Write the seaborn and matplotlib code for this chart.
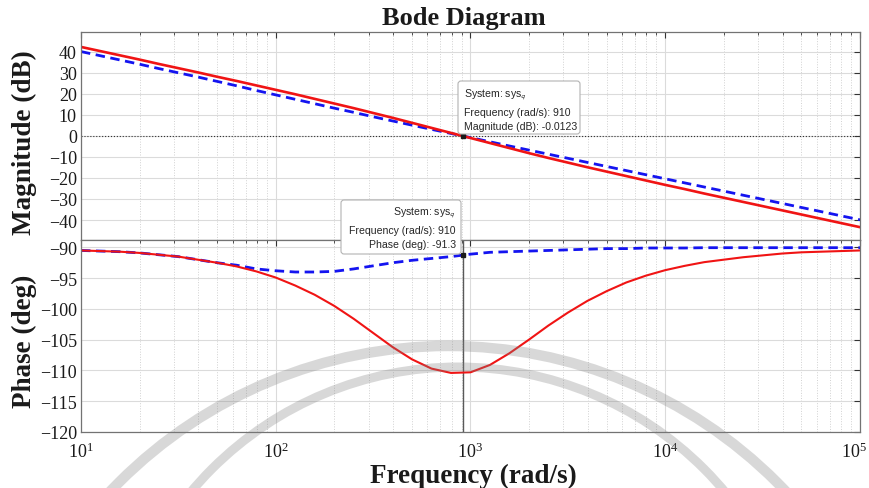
import numpy as np
import pandas as pd
import matplotlib
matplotlib.use("Agg")
import matplotlib.pyplot as plt
import seaborn as sns
from matplotlib.patches import FancyBboxPatch, Arc
from matplotlib.ticker import LogLocator, NullFormatter, FixedLocator
from matplotlib.transforms import ScaledTranslation

# ---------------- data (0.1-decade steps) ----------------
freq = [10, 12.59, 15.85, 19.95, 25.12, 31.62, 39.81, 50.12, 63.1, 79.43,
        100, 125.9, 158.5, 199.5, 251.2, 316.2, 398.1, 501.2, 631, 794.3,
        1000, 1259, 1585, 1995, 2512, 3162, 3981, 5012, 6310, 7943,
        10000, 12590, 15850, 19950, 25120, 31620, 39810, 50120, 63100, 79430,
        100000]
mag_red = [42.3, 40.3, 38.3, 36.3, 34.2, 32.2, 30.2, 28.1, 26.1, 24.0,
           21.9, 19.8, 17.6, 15.4, 13.2, 10.9, 8.6, 6.2, 3.8, 1.4,
           -1.0, -3.4, -5.8, -8.2, -10.5, -12.7, -14.9, -17.0, -19.1, -21.2,
           -23.3, -25.3, -27.4, -29.4, -31.4, -33.4, -35.4, -37.4, -39.4, -41.4,
           -43.4]
mag_blue = [40.1, 38.1, 36.1, 34.1, 32.0, 30.0, 28.0, 25.9, 23.8, 21.6,
            19.5, 17.4, 15.3, 13.2, 11.2, 9.1, 7.1, 5.1, 3.1, 1.15,
            -0.8, -2.8, -4.8, -6.75, -8.7, -10.65, -12.6, -14.55, -16.5, -18.45,
            -20.4, -22.35, -24.3, -26.25, -28.2, -30.15, -32.1, -34.05, -36.0, -37.95,
            -39.9]
phase_red = [-90.5, -90.6, -90.7, -90.9, -91.2, -91.5, -92.0, -92.5, -93.1, -93.9,
             -94.9, -96.2, -97.7, -99.5, -101.6, -103.9, -106.2, -108.2, -109.7, -110.4,
             -110.3, -109.1, -107.2, -105.0, -102.7, -100.6, -98.7, -97.1, -95.7, -94.6,
             -93.7, -93.0, -92.4, -92.0, -91.6, -91.3, -91.0, -90.8, -90.7, -90.6,
             -90.5]
phase_blue = [-90.5, -90.6, -90.7, -90.9, -91.2, -91.5, -92.0, -92.5, -92.9, -93.5,
              -93.8, -94.0, -94.0, -93.9, -93.5, -93.0, -92.5, -92.1, -91.8, -91.5,
              -91.1, -90.8, -90.7, -90.6, -90.5, -90.4, -90.3, -90.2, -90.2, -90.1,
              -90.1, -90.1, -90.05, -90.05, -90.05, -90.05, -90.05, -90.05, -90.05, -90.05,
              -90.05]
tip_freq = 910
tip_mag = -0.0123
tip_phase = -91.3
mag_ticks = [-40, -30, -20, -10, 0, 10, 20, 30, 40]
phase_ticks = [-120, -115, -110, -105, -100, -95, -90]
x_ticks = [1e1, 1e2, 1e3, 1e4, 1e5]
x_ticklabels = [r"$\mathdefault{10^{1}}$", r"$\mathdefault{10^{2}}$", r"$\mathdefault{10^{3}}$",
                r"$\mathdefault{10^{4}}$", r"$\mathdefault{10^{5}}$"]

df = pd.DataFrame({"freq": freq, "mag_red": mag_red, "mag_blue": mag_blue,
                   "phase_red": phase_red, "phase_blue": phase_blue})

# ---------------- style ----------------
sns.set_theme(style="white")
plt.rcParams["font.family"] = ["Liberation Serif", "DejaVu Serif"]
plt.rcParams["mathtext.fontset"] = "stix"
plt.rcParams["axes.unicode_minus"] = True

W, H = 870, 489
fig = plt.figure(figsize=(W / 100, H / 100), dpi=100)
fig.patch.set_facecolor("white")


def rect(l, t, r, b):
    return [l / W, 1 - b / H, (r - l) / W, (b - t) / H]


ax1 = fig.add_axes(rect(81, 33, 860, 241))
ax2 = fig.add_axes(rect(81, 241, 860, 433))

RED = "#f01414"
BLUE = "#1414f0"

for ax in (ax1, ax2):
    ax.set_xscale("log")
    ax.set_xlim(10, 1e5)
    ax.set_facecolor("white")

sns.lineplot(data=df, x="freq", y="mag_blue", ax=ax1, color=BLUE, lw=2.0,
             linestyle=(0, (3.4, 2.0)), estimator=None, sort=False)
sns.lineplot(data=df, x="freq", y="mag_red", ax=ax1, color=RED, lw=1.9,
             estimator=None, sort=False)
sns.lineplot(data=df, x="freq", y="phase_blue", ax=ax2, color=BLUE, lw=2.0,
             linestyle=(0, (3.4, 2.0)), estimator=None, sort=False)
sns.lineplot(data=df, x="freq", y="phase_red", ax=ax2, color=RED, lw=1.5,
             estimator=None, sort=False)

ax1.set_ylim(-49.5, 49.4)
ax2.set_ylim(-120, -88.8)
ax1.yaxis.set_major_locator(FixedLocator(mag_ticks))
ax2.yaxis.set_major_locator(FixedLocator(phase_ticks))

# datatip decorations
ax1.axhline(0, color="0.2", ls=":", lw=0.8, zorder=1)
ax2.axvline(tip_freq, color="0.35", lw=1.0, zorder=1)
ax1.plot([tip_freq], [tip_mag], marker="s", ms=2.5, color="k", zorder=5)
ax2.plot([tip_freq], [tip_phase], marker="s", ms=2.5, color="k", zorder=5)

for ax in (ax1, ax2):
    ax.set_xticks(x_ticks, labels=x_ticklabels)
    ax.xaxis.set_minor_locator(LogLocator(base=10, subs=np.arange(2, 10)))
    ax.xaxis.set_minor_formatter(NullFormatter())
    ax.grid(True, which="major", color="0.86", lw=0.8, ls="-")
    ax.grid(True, which="minor", axis="x", color="0.82", lw=0.7, ls=":")
    ax.tick_params(which="both", direction="in", top=True, right=True,
                   colors="0.2", labelcolor="0.1", labelsize=13, pad=3)
    ax.tick_params(which="major", length=4, width=0.8)
    ax.tick_params(which="minor", length=2.5, width=0.6)
    for s in ax.spines.values():
        s.set_color("0.45")
        s.set_linewidth(0.9)
    ax.set_xlabel("")
    ax.set_ylabel("")

ax1.tick_params(labelbottom=False)
ax2.tick_params(axis="x", which="major", pad=7)

# keep the last decade label inside the canvas, as in the reference
lbls = ax2.get_xticklabels()
lbls[-1].set_transform(lbls[-1].get_transform() +
                       ScaledTranslation(-4 / 72, 0, fig.dpi_scale_trans))

ax1.set_ylabel("Magnitude (dB)", fontsize=19.5, fontweight="bold", color="0.1")
ax1.yaxis.set_label_coords(-0.057, 0.474)
ax2.set_ylabel("Phase (deg)", fontsize=19.5, fontweight="bold", color="0.1")
ax2.yaxis.set_label_coords(-0.057, 0.477)

fig.text(464 / W, 1 - 18 / H, "Bode Diagram", ha="center", va="center",
         fontsize=19, fontweight="bold", color="0.1")
fig.text(473 / W, 1 - 476 / H, "Frequency (rad/s)", ha="center", va="center",
         fontsize=19.5, fontweight="bold", color="0.1")

# ---------------- overlay for datatips and watermark ----------------
ov = fig.add_axes([0, 0, 1, 1], zorder=20)
ov.set_xlim(0, W)
ov.set_ylim(H, 0)
ov.set_axis_off()
ov.patch.set_alpha(0)

sans = ["Liberation Sans", "DejaVu Sans"]


def datatip(l, t, r, b, lines, align):
    box = FancyBboxPatch((l, t), r - l, b - t,
                         boxstyle="round,pad=0,rounding_size=3",
                         fc="white", ec="0.7", lw=0.8, zorder=3)
    ov.add_patch(box)
    x = l + 6 if align == "left" else r - 5
    for (y, s) in lines:
        ov.text(x, y, s, ha=align, va="center", fontsize=7.6,
                family=sans, color="0.15", zorder=4)


datatip(458, 82, 580, 135,
        [(95, r"System: sys$_\mathsf{q}$"), (113, "Frequency (rad/s): 910"),
         (127, "Magnitude (dB): -0.0123")], "left")
datatip(341, 201, 461, 255,
        [(213, r"System: sys$_\mathsf{q}$"), (231, "Frequency (rad/s): 910"),
         (245, "Phase (deg): -91.3")], "right")

# faint watermark arcs
ov.add_patch(Arc((448, 812), 930, 930, theta1=180, theta2=360,
                 color="0.5", lw=7.5, alpha=0.3, zorder=1))
ov.add_patch(Arc((458, 716), 696, 696, theta1=180, theta2=360,
                 color="0.5", lw=6.5, alpha=0.3, zorder=1))

fig.savefig("out.png", dpi=100, facecolor="white")
